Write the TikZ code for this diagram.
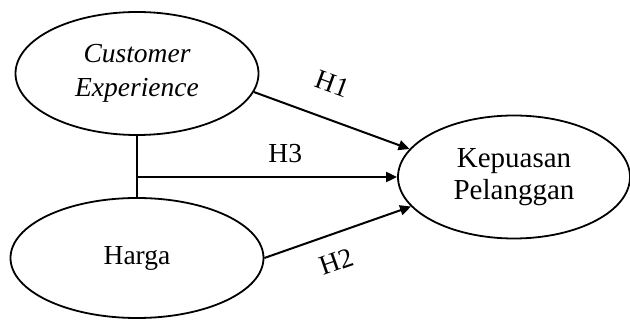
\documentclass[tikz,border=0pt]{standalone}
\usepackage{fontspec}
\setmainfont{Liberation Serif}
\usetikzlibrary{shapes.geometric,arrows.meta}
\begin{document}
\begin{tikzpicture}[x=1pt, y=-1pt,
		latent/.style={ellipse, draw=black, line width=1.8pt, align=center, inner sep=0pt, font=\fontsize{27.5}{34}\selectfont},
		path/.style={-{Triangle[length=11pt, width=10pt]}, black, line width=2pt},
		hyp/.style={font=\fontsize{27.5}{34}\selectfont, inner sep=0pt, sloped}]
		\useasboundingbox (0, 0) rectangle (630, 320);

		\node[latent, minimum width=243pt, minimum height=123pt]	(ce) at (137, 73.5) {\itshape Customer\\\itshape Experience};
		\node[latent, minimum width=253pt, minimum height=120pt]	(hg) at (137, 258) {Harga};
		\node[latent, minimum width=232pt, minimum height=123pt, font=\fontsize{29}{32}\selectfont]	(kp) at (514, 177) {Kepuasan\\Pelanggan};

		\coordinate (jt) at (ce.south |- kp.west);

		\draw[black, line width=2pt]	(ce.south) to (hg.north);

		\draw[path]	(ce.-9) to node[hyp, pos=0.43, above=25pt]{H1} (kp.165);
		\draw[path]	(jt) to node[hyp, pos=0.57, above=13pt]{H3} (kp.west);
		\draw[path]	(hg.east) to node[hyp, pos=0.43, below=17pt]{H2} (kp.196);
	\end{tikzpicture}
\end{document}
